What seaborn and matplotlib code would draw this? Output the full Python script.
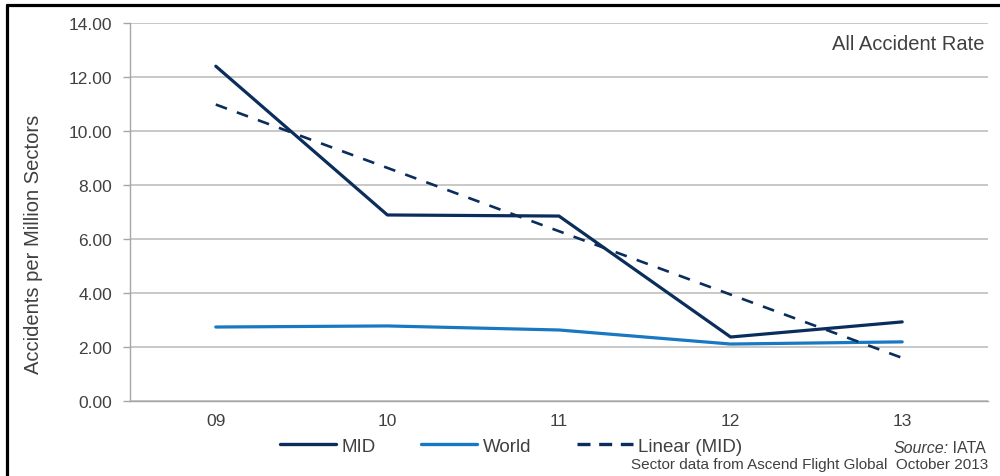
import numpy as np
import pandas as pd
import matplotlib
matplotlib.use("Agg")
import matplotlib.pyplot as plt
from matplotlib.lines import Line2D
import seaborn as sns

years = ["09", "10", "11", "12", "13"]
mid_rate = [12.40, 6.89, 6.85, 2.37, 2.93]
world_rate = [2.74, 2.78, 2.63, 2.11, 2.19]
y_ticks = [0, 2, 4, 6, 8, 10, 12, 14]

sns.set_theme(style="white")
plt.rcParams["font.family"] = ["Liberation Sans", "DejaVu Sans"]

MID_C = "#0B2D5B"
WORLD_C = "#1878C2"
GRID_C = "#BFBFBF"
TXT_C = "#404040"

pos = np.arange(len(years))
coef = np.polyfit(pos, np.array(mid_rate), 1)
trend = np.polyval(coef, pos)

df = pd.DataFrame({
    "pos": np.concatenate([pos, pos]),
    "rate": mid_rate + world_rate,
    "series": ["MID"] * len(years) + ["World"] * len(years),
})
df_trend = pd.DataFrame({"pos": pos, "rate": trend})

fig = plt.figure(figsize=(10, 4.77), dpi=100)
ax = fig.add_axes([0.13, 1 - 402 / 477, 0.858, (402 - 24) / 477])

sns.lineplot(data=df, x="pos", y="rate", hue="series",
             palette={"MID": MID_C, "World": WORLD_C},
             linewidth=2.3, ax=ax, legend=False, sort=False)
sns.lineplot(data=df_trend, x="pos", y="rate", color=MID_C,
             linewidth=1.9, dashes=False, ax=ax, legend=False)
ax.lines[-1].set_linestyle((0, (4.5, 4.0)))

ax.set_xlim(-0.5, len(years) - 0.5)
ax.set_ylim(0, 14)
ax.set_yticks(y_ticks)
ax.set_yticklabels([f"{v:.2f}" for v in y_ticks])
ax.set_xticks(pos)
ax.set_xticklabels(years)
ax.set_xlabel("")
ax.set_ylabel("")

ax.grid(axis="y", color=GRID_C, linewidth=1.2)
ax.grid(axis="x", visible=False)
ax.set_axisbelow(True)
for s in ["top", "right"]:
    ax.spines[s].set_visible(False)
for s in ["left", "bottom"]:
    ax.spines[s].set_visible(True)
    ax.spines[s].set_color("#A6A6A6")
    ax.spines[s].set_linewidth(1.0)

ax.tick_params(axis="y", which="both", left=True, length=5, width=1,
               color="#A6A6A6", pad=8, labelsize=12.5, labelcolor=TXT_C)
ax.tick_params(axis="x", which="both", bottom=False, length=0, pad=9,
               labelsize=12.5, labelcolor=TXT_C)

fig.text(0.034, 1 - 244 / 477, "Accidents per Million Sectors", rotation=90,
         ha="center", va="center", fontsize=14.5, color=TXT_C)

fig.text(0.985, 1 - 44 / 477, "All Accident Rate", ha="right", va="center",
         fontsize=14.5, color=TXT_C)

handles = [
    Line2D([], [], color=MID_C, linewidth=2.4),
    Line2D([], [], color=WORLD_C, linewidth=2.4),
    Line2D([], [], color=MID_C, linewidth=2.4, linestyle=(0, (3.9, 2.6))),
]
fig.legend(handles, ["MID", "World", "Linear (MID)"], loc="center left",
           bbox_to_anchor=(0.280, 1 - 447 / 477), ncol=3, frameon=False,
           fontsize=13.5, handlelength=3.0, handletextpad=0.3,
           columnspacing=2.4, borderpad=0, borderaxespad=0,
           labelcolor=TXT_C)

t_src = fig.text(0.986, 1 - 449 / 477, " IATA", ha="right", va="center",
                 fontsize=11.5, color=TXT_C)
fig.canvas.draw()
bb = t_src.get_window_extent()
fig.text(bb.x0 / fig.bbox.width, 1 - 449 / 477, "Source:", ha="right",
         va="center", fontsize=11.5, color=TXT_C, style="italic")
fig.text(0.988, 1 - 465 / 477, "Sector data from Ascend Flight Global  October 2013",
         ha="right", va="center", fontsize=11, color=TXT_C)

# outer frame lines (top and left)
fig.add_artist(Line2D([0.0065, 1.0], [1 - 6 / 477, 1 - 6 / 477],
                      transform=fig.transFigure, color="black", linewidth=2.3))
fig.add_artist(Line2D([0.0065, 0.0065], [0.0, 1 - 6 / 477],
                      transform=fig.transFigure, color="black", linewidth=2.3))

fig.savefig("out.png", dpi=100)
